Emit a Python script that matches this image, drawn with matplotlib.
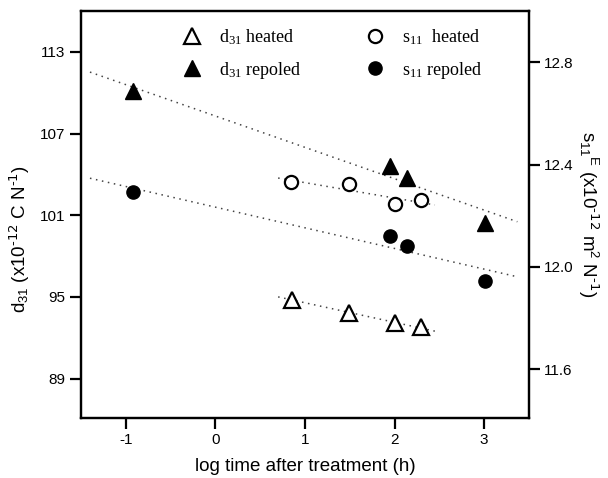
import numpy as np
import matplotlib
matplotlib.use("Agg")
import matplotlib.pyplot as plt

# ---- data ----
d31_heated_x = [0.85, 1.49, 2.01, 2.30]
d31_heated_y = [94.8, 93.85, 93.05, 92.75]
d31_repoled_x = [-0.92, 1.95, 2.14, 3.01]
d31_repoled_y = [110.1, 104.6, 103.75, 100.45]
s11_heated_x = [0.84, 1.49, 2.01, 2.30]
s11_heated_y = [12.331, 12.323, 12.245, 12.26]
s11_repoled_x = [-0.92, 1.95, 2.14, 3.01]
s11_repoled_y = [12.292, 12.12, 12.08, 11.944]

heated_fit_range = [0.70, 2.45]
repoled_fit_range = [-1.40, 3.37]

x_ticks = [-1, 0, 1, 2, 3]
left_ticks = [89, 95, 101, 107, 113]
right_ticks = [11.6, 12.0, 12.4, 12.8]

plt.rcParams['font.family'] = ['Liberation Sans', 'DejaVu Sans']
plt.rcParams['mathtext.default'] = 'regular'

fig = plt.figure(figsize=(6.08, 4.78), dpi=100)
ax = fig.add_axes([81/608, 1-418/478, (529-81)/608, (418-11)/478])
ax2 = ax.twinx()

def fit_line(axis, xs, ys, rng):
    p = np.polyfit(xs, ys, 1)
    xx = np.array(rng)
    axis.plot(xx, np.polyval(p, xx), color='#444444', lw=1.1,
              linestyle=(0, (1, 3)), zorder=1)

fit_line(ax, d31_heated_x, d31_heated_y, heated_fit_range)
fit_line(ax, d31_repoled_x, d31_repoled_y, repoled_fit_range)
fit_line(ax2, s11_heated_x, s11_heated_y, heated_fit_range)
fit_line(ax2, s11_repoled_x, s11_repoled_y, repoled_fit_range)

h1, = ax.plot(d31_heated_x, d31_heated_y, linestyle='none', marker='^', ms=11,
              mfc='white', mec='black', mew=1.6, zorder=3)
h2, = ax.plot(d31_repoled_x, d31_repoled_y, linestyle='none', marker='^', ms=11,
              mfc='black', mec='black', mew=1.0, zorder=3)
h3, = ax2.plot(s11_heated_x, s11_heated_y, linestyle='none', marker='o', ms=9.5,
               mfc='white', mec='black', mew=1.6, zorder=3)
h4, = ax2.plot(s11_repoled_x, s11_repoled_y, linestyle='none', marker='o', ms=9.5,
               mfc='black', mec='black', mew=1.0, zorder=3)

ax.set_xlim(-1.5, 3.5)
ax.set_ylim(86.1, 116.0)
ax2.set_ylim(11.41, 13.0)

ax.set_xticks(x_ticks)
ax.set_xticklabels([str(t) for t in x_ticks])
ax.set_yticks(left_ticks)
ax.set_yticklabels([str(t) for t in left_ticks])
ax2.set_yticks(right_ticks)
ax2.set_yticklabels([f"{t:.1f}" for t in right_ticks])

for a in (ax, ax2):
    for s in a.spines.values():
        s.set_linewidth(1.6)
    a.tick_params(direction='out', length=8, width=1.6, labelsize=11, pad=3)

ax.set_xlabel('log time after treatment (h)', fontsize=13.5, labelpad=8)
ax.set_ylabel(r'd$_{31}$ (x10$^{\text{-12}}$ C N$^{\text{-1}}$)', fontsize=13.5)
ax.yaxis.set_label_coords(-0.11, 0.44)
ax2.set_ylabel(r's$_{11}$$^{E}$ (x10$^{\text{-12}}$ m$^{2}$ N$^{\text{-1}}$)',
               fontsize=13.5, rotation=270)
ax2.yaxis.set_label_coords(1.16, 0.50)

leg = ax.legend([h1, h2, h3, h4],
                ['d$_{31}$ heated', 'd$_{31}$ repoled',
                 's$_{11}$  heated', 's$_{11}$ repoled'],
                ncol=2, frameon=False, loc='upper center',
                bbox_to_anchor=(0.56, 1.0),
                prop={'family': 'Liberation Serif', 'size': 13},
                labelspacing=0.7, columnspacing=3.5, handletextpad=0.9,
                handlelength=1.2)

fig.savefig('out.png', dpi=100)
